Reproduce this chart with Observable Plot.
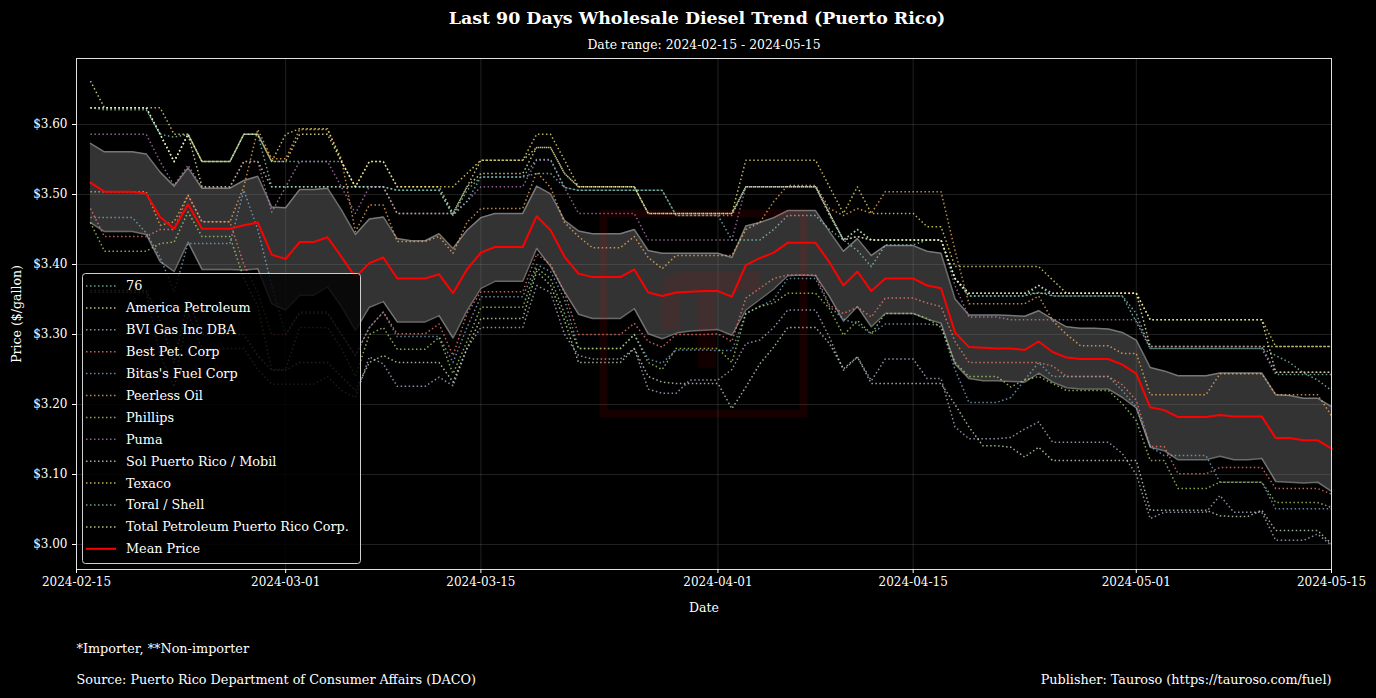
<!DOCTYPE html>
<html>
<head>
<meta charset="utf-8">
<script src="https://cdn.jsdelivr.net/npm/d3@7"></script>
<script src="https://cdn.jsdelivr.net/npm/@observablehq/plot@0.6"></script>
<style>
  html, body { margin: 0; padding: 0; background: #000; }
  #wrap { position: relative; width: 1376px; height: 698px; overflow: hidden; background: #000; }
  #wrap svg { display: block; }
  .overlay { position: absolute; left: 0; top: 0; pointer-events: none; }
</style>
</head>
<body>
<div id="wrap"></div>
<script>
// ---------- DATA ----------
const startDate = "2024-02-16";   // first daily observation
const domainStart = "2024-02-15";
const domainEnd = "2024-05-15";

const names = ["76", "America Petroleum", "BVI Gas Inc DBA", "Best Pet. Corp", "Bitas's Fuel Corp",
  "Peerless Oil", "Phillips", "Puma", "Sol Puerto Rico / Mobil", "Texaco", "Toral / Shell",
  "Total Petroleum Puerto Rico Corp."];
const colors = ["#8dd3c7", "#ffffb3", "#bebada", "#fb8072", "#80b1d3", "#fdb462", "#b3de69",
  "#bc80bd", "#ccebc5", "#ffed6f", "#8dd3c7", "#ffffb3"];

const s76 = [
  3.624,3.621,3.621,3.621,3.621,3.586,3.582,3.586,3.547,3.547,
  3.547,3.586,3.586,3.547,3.547,3.547,3.547,3.547,3.547,3.511,
  3.511,3.511,3.506,3.506,3.506,3.506,3.470,3.506,3.525,3.525,
  3.525,3.525,3.530,3.530,3.510,3.506,3.506,3.506,3.506,3.506,
  3.506,3.506,3.470,3.470,3.470,3.470,3.435,3.435,3.435,3.450,
  3.470,3.470,3.470,3.450,3.435,3.420,3.397,3.428,3.428,3.428,
  3.435,3.435,3.380,3.355,3.355,3.355,3.355,3.355,3.370,3.355,
  3.355,3.355,3.355,3.355,3.355,3.318,3.280,3.280,3.280,3.280,
  3.280,3.280,3.280,3.280,3.280,3.270,3.260,3.245,3.235,3.220];
const sAmerica = [
  3.624,3.624,3.624,3.624,3.624,3.586,3.547,3.586,3.511,3.511,
  3.511,3.547,3.547,3.511,3.511,3.511,3.511,3.511,3.511,3.511,
  3.511,3.511,3.473,3.473,3.473,3.473,3.473,3.511,3.549,3.549,
  3.549,3.549,3.567,3.567,3.530,3.511,3.511,3.511,3.511,3.511,
  3.473,3.473,3.473,3.473,3.473,3.473,3.473,3.511,3.511,3.511,
  3.511,3.511,3.511,3.473,3.435,3.450,3.435,3.435,3.435,3.435,
  3.435,3.435,3.380,3.359,3.359,3.359,3.359,3.359,3.370,3.359,
  3.359,3.359,3.359,3.359,3.359,3.359,3.283,3.283,3.283,3.283,
  3.283,3.283,3.283,3.283,3.283,3.283,3.283,3.283,3.283,3.283];
const sBVI = [
  3.360,3.360,3.360,3.360,3.360,3.270,3.225,3.330,3.280,3.280,
  3.280,3.280,3.250,3.229,3.229,3.229,3.229,3.240,3.220,3.210,
  3.268,3.258,3.226,3.226,3.226,3.239,3.227,3.280,3.310,3.310,
  3.310,3.310,3.370,3.360,3.300,3.270,3.265,3.265,3.265,3.280,
  3.222,3.216,3.216,3.235,3.235,3.235,3.250,3.287,3.292,3.310,
  3.335,3.335,3.335,3.296,3.249,3.268,3.234,3.265,3.265,3.265,
  3.237,3.237,3.168,3.151,3.151,3.151,3.153,3.165,3.175,3.146,
  3.146,3.146,3.146,3.146,3.130,3.100,3.037,3.046,3.046,3.046,
  3.046,3.070,3.046,3.046,3.046,3.006,3.006,3.006,3.015,2.999];
const sBest = [
  3.480,3.440,3.440,3.440,3.440,3.450,3.450,3.499,3.461,3.461,
  3.461,3.400,3.360,3.300,3.300,3.332,3.332,3.332,3.300,3.270,
  3.310,3.332,3.301,3.301,3.301,3.315,3.270,3.330,3.361,3.361,
  3.361,3.361,3.415,3.400,3.360,3.300,3.300,3.300,3.300,3.316,
  3.290,3.282,3.300,3.300,3.300,3.301,3.290,3.352,3.366,3.380,
  3.385,3.385,3.385,3.342,3.330,3.339,3.325,3.352,3.352,3.352,
  3.345,3.340,3.290,3.260,3.260,3.260,3.260,3.260,3.260,3.255,
  3.240,3.240,3.240,3.240,3.228,3.206,3.140,3.140,3.101,3.101,
  3.101,3.110,3.110,3.110,3.110,3.080,3.080,3.080,3.080,3.072];
const sBitas = [
  3.467,3.467,3.467,3.467,3.445,3.410,3.361,3.430,3.430,3.430,
  3.430,3.506,3.450,3.370,3.300,3.330,3.330,3.330,3.300,3.270,
  3.310,3.332,3.297,3.297,3.297,3.297,3.260,3.310,3.354,3.354,
  3.354,3.354,3.400,3.390,3.350,3.280,3.280,3.280,3.280,3.300,
  3.265,3.259,3.278,3.278,3.278,3.277,3.277,3.330,3.340,3.350,
  3.380,3.380,3.380,3.340,3.322,3.315,3.301,3.315,3.315,3.315,
  3.315,3.313,3.250,3.203,3.203,3.203,3.210,3.235,3.260,3.240,
  3.240,3.240,3.240,3.240,3.220,3.196,3.140,3.127,3.127,3.127,
  3.127,3.089,3.089,3.089,3.089,3.051,3.051,3.051,3.051,3.051];
const sPeerless = [
  3.504,3.504,3.504,3.504,3.504,3.456,3.461,3.499,3.461,3.461,
  3.461,3.511,3.593,3.551,3.551,3.593,3.593,3.593,3.551,3.447,
  3.485,3.485,3.433,3.433,3.433,3.440,3.416,3.460,3.480,3.480,
  3.480,3.480,3.532,3.510,3.460,3.440,3.424,3.424,3.424,3.440,
  3.410,3.394,3.413,3.413,3.413,3.413,3.413,3.450,3.460,3.490,
  3.513,3.513,3.513,3.480,3.470,3.480,3.473,3.504,3.504,3.504,
  3.504,3.504,3.420,3.344,3.344,3.344,3.344,3.344,3.355,3.320,
  3.300,3.284,3.284,3.284,3.273,3.273,3.214,3.214,3.214,3.214,
  3.214,3.244,3.244,3.244,3.244,3.214,3.214,3.214,3.214,3.184];
const sPhillips = [
  3.460,3.419,3.419,3.419,3.419,3.430,3.432,3.475,3.440,3.440,
  3.440,3.380,3.340,3.250,3.250,3.310,3.310,3.310,3.280,3.240,
  3.300,3.310,3.279,3.279,3.279,3.296,3.244,3.290,3.339,3.339,
  3.339,3.339,3.395,3.380,3.330,3.280,3.280,3.280,3.280,3.300,
  3.260,3.250,3.280,3.280,3.280,3.280,3.260,3.330,3.340,3.345,
  3.359,3.359,3.359,3.337,3.299,3.320,3.301,3.330,3.330,3.330,
  3.323,3.310,3.260,3.240,3.240,3.240,3.225,3.235,3.240,3.230,
  3.220,3.220,3.220,3.220,3.201,3.177,3.120,3.120,3.080,3.080,
  3.080,3.089,3.089,3.089,3.089,3.060,3.060,3.060,3.060,3.053];
const sPuma = [
  3.586,3.586,3.586,3.586,3.586,3.547,3.513,3.542,3.510,3.510,
  3.510,3.547,3.547,3.475,3.511,3.547,3.547,3.547,3.511,3.473,
  3.511,3.511,3.473,3.473,3.473,3.473,3.473,3.490,3.511,3.511,
  3.511,3.511,3.549,3.549,3.510,3.473,3.473,3.473,3.473,3.473,
  3.435,3.435,3.435,3.435,3.435,3.435,3.435,3.511,3.511,3.511,
  3.511,3.511,3.511,3.473,3.435,3.440,3.435,3.435,3.435,3.435,
  3.435,3.435,3.370,3.325,3.325,3.325,3.321,3.321,3.321,3.321,
  3.321,3.321,3.321,3.321,3.321,3.321,3.283,3.283,3.283,3.283,
  3.283,3.283,3.283,3.283,3.283,3.246,3.246,3.246,3.246,3.246];
const sSol = [
  3.363,3.363,3.363,3.363,3.363,3.320,3.260,3.350,3.300,3.300,
  3.300,3.300,3.270,3.249,3.249,3.260,3.260,3.260,3.240,3.220,
  3.260,3.270,3.260,3.260,3.260,3.260,3.232,3.280,3.323,3.323,
  3.323,3.323,3.390,3.370,3.320,3.260,3.260,3.260,3.260,3.280,
  3.240,3.232,3.230,3.230,3.230,3.230,3.194,3.225,3.258,3.282,
  3.310,3.310,3.310,3.287,3.251,3.268,3.230,3.230,3.230,3.230,
  3.230,3.230,3.200,3.168,3.141,3.141,3.139,3.125,3.139,3.120,
  3.120,3.120,3.120,3.120,3.120,3.120,3.049,3.049,3.049,3.049,
  3.049,3.041,3.040,3.040,3.049,3.020,3.020,3.020,3.020,3.001];
const sTexaco = [
  3.624,3.624,3.624,3.624,3.624,3.624,3.586,3.586,3.547,3.547,
  3.547,3.586,3.586,3.547,3.586,3.594,3.594,3.594,3.547,3.511,
  3.547,3.547,3.511,3.511,3.511,3.511,3.511,3.530,3.549,3.549,
  3.549,3.549,3.586,3.586,3.549,3.511,3.511,3.511,3.511,3.511,
  3.473,3.473,3.473,3.473,3.473,3.473,3.473,3.549,3.549,3.549,
  3.549,3.549,3.549,3.511,3.473,3.511,3.473,3.473,3.473,3.473,
  3.454,3.454,3.397,3.397,3.397,3.397,3.397,3.397,3.397,3.378,
  3.359,3.359,3.359,3.359,3.359,3.359,3.321,3.321,3.321,3.321,
  3.321,3.321,3.321,3.321,3.321,3.283,3.283,3.283,3.283,3.283];
const sToral = [
  3.624,3.624,3.624,3.624,3.624,3.586,3.547,3.586,3.547,3.547,
  3.547,3.586,3.586,3.511,3.511,3.511,3.511,3.511,3.511,3.511,
  3.511,3.511,3.506,3.506,3.506,3.506,3.470,3.490,3.525,3.525,
  3.525,3.525,3.550,3.550,3.510,3.506,3.506,3.506,3.506,3.506,
  3.506,3.506,3.470,3.470,3.470,3.470,3.470,3.511,3.511,3.511,
  3.511,3.511,3.511,3.470,3.435,3.450,3.435,3.435,3.435,3.435,
  3.435,3.435,3.380,3.355,3.355,3.355,3.355,3.355,3.360,3.355,
  3.355,3.355,3.355,3.355,3.355,3.330,3.280,3.280,3.280,3.280,
  3.280,3.280,3.280,3.280,3.280,3.243,3.243,3.243,3.243,3.243];
const sTotal = [
  3.662,3.624,3.624,3.624,3.624,3.586,3.547,3.586,3.547,3.547,
  3.547,3.586,3.586,3.547,3.547,3.586,3.586,3.586,3.547,3.511,
  3.547,3.547,3.511,3.511,3.511,3.511,3.473,3.511,3.530,3.530,
  3.530,3.530,3.567,3.567,3.530,3.511,3.511,3.511,3.511,3.511,
  3.473,3.473,3.473,3.473,3.473,3.473,3.473,3.511,3.511,3.511,
  3.511,3.511,3.511,3.473,3.435,3.440,3.435,3.435,3.435,3.435,
  3.435,3.435,3.380,3.359,3.359,3.359,3.359,3.359,3.359,3.359,
  3.359,3.359,3.359,3.359,3.359,3.359,3.321,3.321,3.321,3.321,
  3.321,3.321,3.321,3.321,3.321,3.246,3.246,3.246,3.246,3.246];

const meanPrice = [
  3.517,3.504,3.504,3.504,3.501,3.468,3.451,3.486,3.451,3.451,
  3.451,3.456,3.460,3.414,3.408,3.432,3.432,3.439,3.411,3.382,
  3.402,3.410,3.380,3.380,3.380,3.386,3.359,3.393,3.417,3.425,
  3.425,3.425,3.469,3.449,3.411,3.387,3.382,3.382,3.382,3.393,
  3.360,3.355,3.360,3.361,3.362,3.362,3.354,3.399,3.409,3.417,
  3.431,3.431,3.431,3.403,3.370,3.390,3.362,3.380,3.380,3.380,
  3.370,3.366,3.303,3.282,3.281,3.280,3.280,3.278,3.290,3.275,
  3.267,3.265,3.265,3.265,3.257,3.244,3.196,3.192,3.182,3.182,
  3.182,3.185,3.183,3.183,3.183,3.152,3.152,3.149,3.149,3.137];
const bandUpper = [
  3.573,3.561,3.561,3.561,3.558,3.532,3.512,3.538,3.509,3.509,
  3.509,3.520,3.526,3.482,3.481,3.507,3.507,3.509,3.478,3.443,
  3.465,3.468,3.437,3.434,3.434,3.444,3.423,3.449,3.467,3.473,
  3.473,3.473,3.512,3.501,3.463,3.448,3.444,3.444,3.444,3.450,
  3.420,3.416,3.416,3.416,3.416,3.416,3.410,3.455,3.460,3.467,
  3.477,3.477,3.477,3.447,3.419,3.437,3.413,3.427,3.427,3.427,
  3.419,3.416,3.351,3.328,3.328,3.328,3.327,3.326,3.334,3.322,
  3.311,3.309,3.309,3.308,3.303,3.292,3.253,3.248,3.241,3.241,
  3.241,3.245,3.245,3.245,3.245,3.214,3.213,3.209,3.209,3.197];
const bandLower = [
  3.460,3.447,3.447,3.447,3.443,3.404,3.390,3.432,3.393,3.393,
  3.393,3.392,3.394,3.344,3.335,3.356,3.356,3.368,3.340,3.306,
  3.339,3.347,3.318,3.318,3.318,3.327,3.295,3.334,3.366,3.376,
  3.376,3.376,3.423,3.397,3.361,3.329,3.323,3.323,3.323,3.337,
  3.301,3.294,3.302,3.305,3.306,3.307,3.299,3.335,3.350,3.365,
  3.384,3.385,3.384,3.354,3.319,3.340,3.311,3.330,3.330,3.330,
  3.322,3.316,3.258,3.237,3.234,3.234,3.233,3.232,3.245,3.232,
  3.224,3.222,3.222,3.222,3.210,3.195,3.139,3.134,3.121,3.121,
  3.121,3.126,3.121,3.121,3.123,3.090,3.089,3.088,3.089,3.076];

const xTickLabels = ["2024-02-15", "2024-03-01", "2024-03-15", "2024-04-01", "2024-04-15", "2024-05-01", "2024-05-15"];
const yTickValues = [3.00, 3.10, 3.20, 3.30, 3.40, 3.50, 3.60];

const titleText = "Last 90 Days Wholesale Diesel Trend (Puerto Rico)";
const subtitleText = "Date range: 2024-02-15 - 2024-05-15";
const noteText = "*Importer, **Non-importer";
const sourceText = "Source: Puerto Rico Department of Consumer Affairs (DACO)";
const publisherText = "Publisher: Tauroso (https://tauroso.com/fuel)";
const meanLabel = "Mean Price";

// ---------- BUILD TABLES ----------
const seriesValues = [s76, sAmerica, sBVI, sBest, sBitas, sPeerless, sPhillips, sPuma, sSol, sTexaco, sToral, sTotal];
const t0 = new Date(startDate + "T00:00:00Z");
const dates = meanPrice.map((_, i) => d3.utcDay.offset(t0, i));
const long = [];
seriesValues.forEach((arr, k) => arr.forEach((v, i) => long.push({ date: dates[i], price: v, name: names[k] })));
const stats = dates.map((d, i) => ({ date: d, mean: meanPrice[i], upper: bandUpper[i], lower: bandLower[i] }));
const xTicks = xTickLabels.map(s => new Date(s + "T00:00:00Z"));

const FONT = "DejaVu Serif, serif";
const W = 1376, H = 698;
const mL = 76, mR = 45, mT = 58, mB = 129;

const chart = Plot.plot({
  width: W, height: H,
  marginLeft: mL, marginRight: mR, marginTop: mT, marginBottom: mB,
  style: { background: "#000", color: "#fff", fontFamily: FONT, fontSize: "12px" },
  x: { type: "utc", domain: [new Date(domainStart + "T00:00:00Z"), new Date(domainEnd + "T00:00:00Z")] },
  y: { domain: [2.9643, 3.6943] },
  color: { domain: names, range: colors },
  marks: [
    Plot.gridX(xTicks, { stroke: "#fff", strokeOpacity: 0.16, strokeWidth: 0.8 }),
    Plot.gridY(yTickValues, { stroke: "#fff", strokeOpacity: 0.16, strokeWidth: 0.8 }),
    Plot.areaY(stats, { x: "date", y1: "lower", y2: "upper", fill: "#808080", fillOpacity: 0.4, curve: "linear" }),
    Plot.line(stats, { x: "date", y: "upper", stroke: "#a0a0a0", strokeOpacity: 0.65, strokeWidth: 1.5 }),
    Plot.line(stats, { x: "date", y: "lower", stroke: "#a0a0a0", strokeOpacity: 0.65, strokeWidth: 1.5 }),
    Plot.line(long, { x: "date", y: "price", z: "name", stroke: "name", strokeWidth: 1.5,
      strokeOpacity: 0.75, strokeDasharray: "1.5,2.5", strokeLinecap: "butt" }),
    Plot.line(stats, { x: "date", y: "mean", stroke: "#ff0000", strokeWidth: 2 }),
    Plot.frame({ stroke: "#e0e0e0", strokeWidth: 1 }),
    Plot.axisX(xTicks, { tickFormat: d3.utcFormat("%Y-%m-%d"), tickSize: 4, tickPadding: 4,
      fontSize: 12, stroke: "#fff", label: null }),
    Plot.axisY(yTickValues, { tickFormat: d => "$" + d.toFixed(2), tickSize: 4, tickPadding: 5,
      fontSize: 12, stroke: "#fff", label: null }),
    Plot.text([titleText], { text: d => d, frameAnchor: "top", dy: -40, dx: -7, fontSize: 17.4, fontWeight: "bold",
      fill: "#fff", lineAnchor: "middle", textAnchor: "middle" }),
    Plot.text([subtitleText], { text: d => d, frameAnchor: "top", dy: -13, fontSize: 12.4,
      fill: "#fff", lineAnchor: "middle", textAnchor: "middle" }),
    Plot.text(["Date"], { text: d => d, frameAnchor: "bottom", dy: 38, fontSize: 12.5,
      fill: "#fff", lineAnchor: "middle", textAnchor: "middle" }),
    Plot.text(["Price ($/gallon)"], { text: d => d, frameAnchor: "left", dx: -60, rotate: -90, fontSize: 12.5,
      fill: "#fff", lineAnchor: "middle", textAnchor: "middle" }),
    Plot.text([noteText], { text: d => d, frameAnchor: "bottom-left", dy: 79, textAnchor: "start",
      fontSize: 12.8, fill: "#fff", lineAnchor: "middle" }),
    Plot.text([sourceText], { text: d => d, frameAnchor: "bottom-left", dy: 110, textAnchor: "start",
      fontSize: 12.8, fill: "#fff", lineAnchor: "middle" }),
    Plot.text([publisherText], { text: d => d, frameAnchor: "bottom-right", dy: 110, textAnchor: "end",
      fontSize: 12.8, fill: "#fff", lineAnchor: "middle" })
  ]
});

const wrap = document.getElementById("wrap");
wrap.appendChild(chart);

// ---------- WATERMARK (faint logo) ----------
const wm = d3.select(wrap).append("svg").attr("class", "overlay").attr("width", W).attr("height", H);
wm.append("rect").attr("x", 603.5).attr("y", 213.5).attr("width", 200).attr("height", 200)
  .attr("fill", "none").attr("stroke", "#ff0000").attr("stroke-opacity", 0.09).attr("stroke-width", 8);
wm.append("path").attr("d", "M662,330 L662,292 Q662,272 684,272 L760,272 L760,292 L716,292 L716,368 L698,368 L698,292 L684,292 Q680,292 680,300 L680,330 Z")
  .attr("fill", "#ff0000").attr("fill-opacity", 0.07);

// ---------- LEGEND ----------
const lg = d3.select(wrap).append("svg").attr("class", "overlay").attr("width", W).attr("height", H);
const lx = 82, ly = 273, lw = 278, lh = 290, rowH = 21.9, firstRow = 286;
lg.append("rect").attr("x", lx + 0.5).attr("y", ly + 0.5).attr("width", lw).attr("height", lh)
  .attr("rx", 3).attr("fill", "#000").attr("fill-opacity", 0.82).attr("stroke", "#cfcfcf").attr("stroke-width", 1);
const entries = names.map((n, i) => ({ label: n, color: colors[i], dotted: true }))
  .concat([{ label: meanLabel, color: "#ff0000", dotted: false }]);
entries.forEach((e, i) => {
  const y = firstRow + i * rowH;
  lg.append("line").attr("x1", 86).attr("x2", 116).attr("y1", y).attr("y2", y)
    .attr("stroke", e.color).attr("stroke-width", e.dotted ? 1.5 : 2)
    .attr("stroke-opacity", e.dotted ? 0.75 : 1)
    .attr("stroke-dasharray", e.dotted ? "1.5,2.5" : null);
  lg.append("text").attr("x", 126).attr("y", y).attr("dy", "0.35em")
    .attr("fill", "#fff").attr("font-family", FONT).attr("font-size", 12.8).text(e.label);
});
</script>
</body>
</html>
